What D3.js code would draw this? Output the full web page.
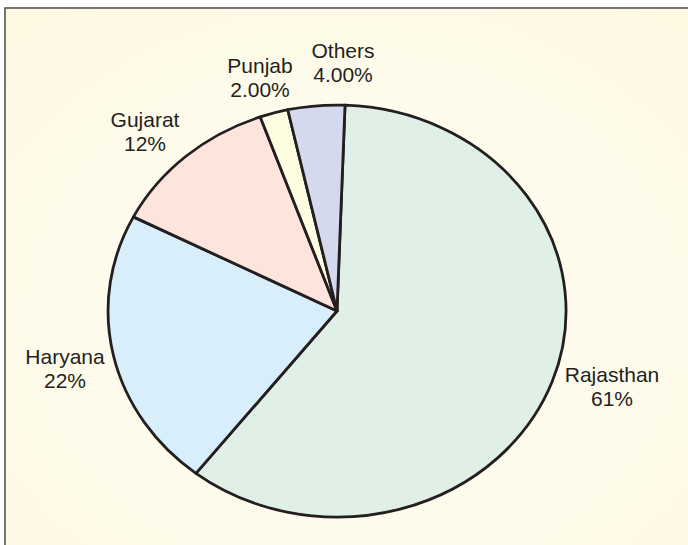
<!DOCTYPE html>
<html>
<head>
<meta charset="utf-8">
<script src="https://cdn.jsdelivr.net/npm/d3@7.9.0/dist/d3.min.js"></script>
<style>
    html, body { margin: 0; padding: 0; background: #fff; }
    svg { display: block; }
    .label { font-family: "Liberation Sans", Arial, sans-serif; font-size: 21px; fill: #231f20; }
</style>
</head>
<body>
<svg width="688" height="545"></svg>
<script>
const states = ['Rajasthan', 'Haryana', 'Gujarat', 'Punjab', 'Others'];
const shares = [60, 22, 12, 2, 4];
const shareLabels = ['61%', '22%', '12%', '2.00%', '4.00%'];
const colors = ['#e1f0e6', '#d8eefb', '#fde4dc', '#fefde1', '#d4d9ee'];

const svg = d3.select('svg');

// cream panel with a soft radial glow
const defs = svg.append('defs');
const grad = defs.append('radialGradient').attr('id', 'bg')
    .attr('cx', '50%').attr('cy', '55%').attr('r', '70%');
grad.append('stop').attr('offset', '0%').attr('stop-color', '#fffef6');
grad.append('stop').attr('offset', '100%').attr('stop-color', '#fef9e3');

svg.append('rect')
    .attr('x', 5).attr('y', 8)
    .attr('width', 700).attr('height', 560)
    .attr('fill', 'url(#bg)')
    .attr('stroke', '#4a4a4a')
    .attr('stroke-width', 1.5);

const cx = 337, cy = 311, rx = 229, ry = 206;
const a0 = 0.035;

const pie = d3.pie().sort(null).value(d => d)
    .startAngle(a0).endAngle(a0 + 2 * Math.PI);
const arcs = pie(shares);
const arc = d3.arc().innerRadius(0).outerRadius(1);

const g = svg.append('g')
    .attr('transform', `translate(${cx},${cy}) scale(${rx},${ry})`);

g.selectAll('path')
    .data(arcs)
    .join('path')
    .attr('d', arc)
    .attr('fill', (d, i) => colors[i])
    .attr('stroke', '#231f20')
    .attr('stroke-width', 2.8)
    .attr('stroke-linejoin', 'round')
    .attr('vector-effect', 'non-scaling-stroke');

// label positions
const labelPos = [[612, 382], [65, 364], [145, 127], [260, 73], [343, 58]];

states.forEach((s, i) => {
    const t = svg.append('text')
        .attr('class', 'label')
        .attr('text-anchor', 'middle')
        .attr('x', labelPos[i][0])
        .attr('y', labelPos[i][1]);
    t.append('tspan').attr('x', labelPos[i][0]).text(s);
    t.append('tspan').attr('x', labelPos[i][0]).attr('dy', 23.5).text(shareLabels[i]);
});
</script>
</body>
</html>
